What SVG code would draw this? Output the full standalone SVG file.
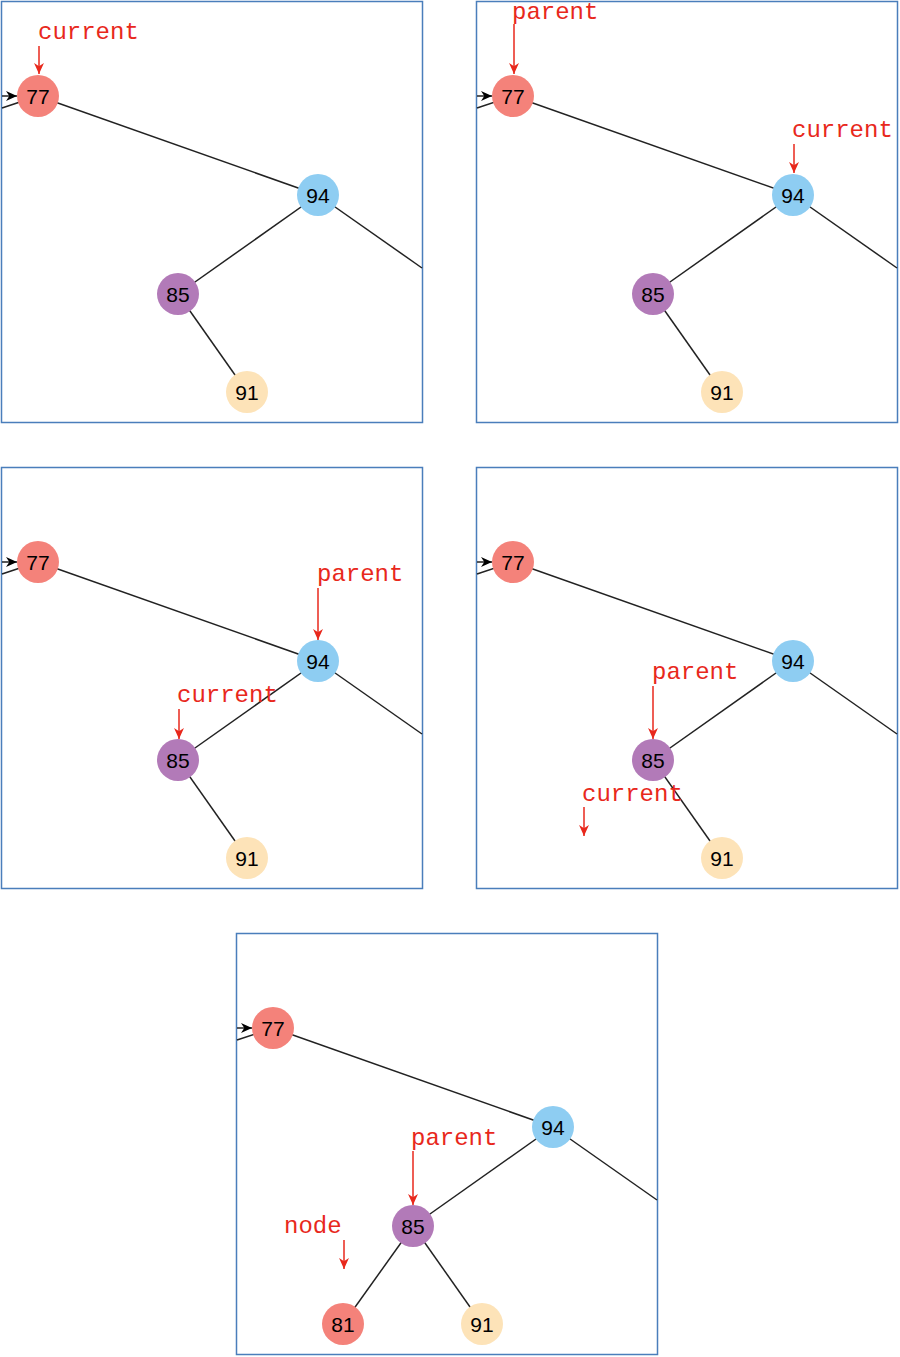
<svg xmlns="http://www.w3.org/2000/svg" width="900" height="1357" viewBox="0 0 900 1357">
<style>
.frame{fill:#fff;stroke:#4a7ebb;stroke-width:1.5}
.edge{stroke:#222;stroke-width:1.5;fill:none}
.ptr{stroke:#e8281c;stroke-width:1.5;fill:none;marker-end:url(#ra)}
.lbl{font-family:"Liberation Mono","Courier New",monospace;font-size:24px;fill:#e8281c}
.num{font-family:"Liberation Sans",Arial,sans-serif;font-size:21px;fill:#000;text-anchor:middle}
.red{fill:#f4827a}.blue{fill:#8ecdf2}.purple{fill:#b27ab8}.peach{fill:#fde3b8}
</style>
<defs>
<marker id="ra" markerUnits="userSpaceOnUse" markerWidth="11" markerHeight="12" refX="10" refY="5" orient="auto" viewBox="0 0 10 10"><path d="M0,0.5 L10,5 L0,9.5 L3,5 z" fill="#e8281c"/></marker>
<marker id="ba" markerUnits="userSpaceOnUse" markerWidth="12" markerHeight="11" refX="10" refY="5" orient="auto" viewBox="0 0 10 10"><path d="M0,0.5 L10,5 L0,9.5 L3,5 z" fill="#000"/></marker>
</defs>

<g id="panel1">
<rect class="frame" x="1.5" y="1.5" width="421" height="421"/>
<g id="p1-edges">
<line class="edge" x1="2" y1="108" x2="38" y2="96"/>
<line class="edge" x1="38" y1="96" x2="318" y2="195"/>
<line class="edge" x1="318" y1="195" x2="422" y2="268"/>
<line class="edge" x1="318" y1="195" x2="178" y2="294"/>
<line class="edge" x1="178" y1="294" x2="247" y2="392"/>
<line class="edge" x1="2" y1="96" x2="17" y2="96" marker-end="url(#ba)"/>
</g>
<g id="p1-n77"><circle class="red" cx="38" cy="96" r="21"/><text class="num" x="38" y="103.5">77</text></g>
<g id="p1-n94"><circle class="blue" cx="318" cy="195" r="21"/><text class="num" x="318" y="202.5">94</text></g>
<g id="p1-n85"><circle class="purple" cx="178" cy="294" r="21"/><text class="num" x="178" y="301.5">85</text></g>
<g id="p1-n91"><circle class="peach" cx="247" cy="392" r="21"/><text class="num" x="247" y="399.5">91</text></g>
<g id="p1-current"><text class="lbl" x="38" y="39">current</text><line class="ptr" x1="39" y1="46" x2="39" y2="74"/></g>
</g>

<g id="panel2">
<rect class="frame" x="476.5" y="1.5" width="421" height="421"/>
<g id="p2-edges">
<line class="edge" x1="477" y1="108" x2="513" y2="96"/>
<line class="edge" x1="513" y1="96" x2="793" y2="195"/>
<line class="edge" x1="793" y1="195" x2="897" y2="268"/>
<line class="edge" x1="793" y1="195" x2="653" y2="294"/>
<line class="edge" x1="653" y1="294" x2="722" y2="392"/>
<line class="edge" x1="477" y1="96" x2="492" y2="96" marker-end="url(#ba)"/>
</g>
<g id="p2-n77"><circle class="red" cx="513" cy="96" r="21"/><text class="num" x="513" y="103.5">77</text></g>
<g id="p2-n94"><circle class="blue" cx="793" cy="195" r="21"/><text class="num" x="793" y="202.5">94</text></g>
<g id="p2-n85"><circle class="purple" cx="653" cy="294" r="21"/><text class="num" x="653" y="301.5">85</text></g>
<g id="p2-n91"><circle class="peach" cx="722" cy="392" r="21"/><text class="num" x="722" y="399.5">91</text></g>
<g id="p2-parent"><text class="lbl" x="512" y="19">parent</text><line class="ptr" x1="514" y1="24" x2="514" y2="74"/></g>
<g id="p2-current"><text class="lbl" x="792" y="137">current</text><line class="ptr" x1="794" y1="144" x2="794" y2="173"/></g>
</g>

<g id="panel3">
<rect class="frame" x="1.5" y="467.5" width="421" height="421"/>
<g id="p3-edges">
<line class="edge" x1="2" y1="574" x2="38" y2="562"/>
<line class="edge" x1="38" y1="562" x2="318" y2="661"/>
<line class="edge" x1="318" y1="661" x2="422" y2="734"/>
<line class="edge" x1="318" y1="661" x2="178" y2="760"/>
<line class="edge" x1="178" y1="760" x2="247" y2="858"/>
<line class="edge" x1="2" y1="562" x2="17" y2="562" marker-end="url(#ba)"/>
</g>
<g id="p3-n77"><circle class="red" cx="38" cy="562" r="21"/><text class="num" x="38" y="569.5">77</text></g>
<g id="p3-n94"><circle class="blue" cx="318" cy="661" r="21"/><text class="num" x="318" y="668.5">94</text></g>
<g id="p3-n85"><circle class="purple" cx="178" cy="760" r="21"/><text class="num" x="178" y="767.5">85</text></g>
<g id="p3-n91"><circle class="peach" cx="247" cy="858" r="21"/><text class="num" x="247" y="865.5">91</text></g>
<g id="p3-parent"><text class="lbl" x="317" y="581">parent</text><line class="ptr" x1="318" y1="588" x2="318" y2="640"/></g>
<g id="p3-current"><text class="lbl" x="177" y="702">current</text><line class="ptr" x1="179" y1="709" x2="179" y2="739"/></g>
</g>

<g id="panel4">
<rect class="frame" x="476.5" y="467.5" width="421" height="421"/>
<g id="p4-edges">
<line class="edge" x1="477" y1="574" x2="513" y2="562"/>
<line class="edge" x1="513" y1="562" x2="793" y2="661"/>
<line class="edge" x1="793" y1="661" x2="897" y2="734"/>
<line class="edge" x1="793" y1="661" x2="653" y2="760"/>
<line class="edge" x1="653" y1="760" x2="722" y2="858"/>
<line class="edge" x1="477" y1="562" x2="492" y2="562" marker-end="url(#ba)"/>
</g>
<g id="p4-n77"><circle class="red" cx="513" cy="562" r="21"/><text class="num" x="513" y="569.5">77</text></g>
<g id="p4-n94"><circle class="blue" cx="793" cy="661" r="21"/><text class="num" x="793" y="668.5">94</text></g>
<g id="p4-n85"><circle class="purple" cx="653" cy="760" r="21"/><text class="num" x="653" y="767.5">85</text></g>
<g id="p4-n91"><circle class="peach" cx="722" cy="858" r="21"/><text class="num" x="722" y="865.5">91</text></g>
<g id="p4-parent"><text class="lbl" x="652" y="679">parent</text><line class="ptr" x1="653" y1="686" x2="653" y2="739"/></g>
<g id="p4-current"><text class="lbl" x="582" y="801">current</text><line class="ptr" x1="584" y1="807" x2="584" y2="836"/></g>
</g>

<g id="panel5">
<rect class="frame" x="236.5" y="933.5" width="421" height="421"/>
<g id="p5-edges">
<line class="edge" x1="237" y1="1040" x2="273" y2="1028"/>
<line class="edge" x1="273" y1="1028" x2="553" y2="1127"/>
<line class="edge" x1="553" y1="1127" x2="657" y2="1200"/>
<line class="edge" x1="553" y1="1127" x2="413" y2="1226"/>
<line class="edge" x1="413" y1="1226" x2="482" y2="1324"/>
<line class="edge" x1="413" y1="1226" x2="343" y2="1324"/>
<line class="edge" x1="237" y1="1028" x2="252" y2="1028" marker-end="url(#ba)"/>
</g>
<g id="p5-n77"><circle class="red" cx="273" cy="1028" r="21"/><text class="num" x="273" y="1035.5">77</text></g>
<g id="p5-n94"><circle class="blue" cx="553" cy="1127" r="21"/><text class="num" x="553" y="1134.5">94</text></g>
<g id="p5-n85"><circle class="purple" cx="413" cy="1226" r="21"/><text class="num" x="413" y="1233.5">85</text></g>
<g id="p5-n91"><circle class="peach" cx="482" cy="1324" r="21"/><text class="num" x="482" y="1331.5">91</text></g>
<g id="p5-n81"><circle class="red" cx="343" cy="1324" r="21"/><text class="num" x="343" y="1331.5">81</text></g>
<g id="p5-parent"><text class="lbl" x="411" y="1145">parent</text><line class="ptr" x1="413" y1="1151" x2="413" y2="1205"/></g>
<g id="p5-node"><text class="lbl" x="284" y="1233">node</text><line class="ptr" x1="344" y1="1240" x2="344" y2="1269"/></g>
</g>
</svg>
